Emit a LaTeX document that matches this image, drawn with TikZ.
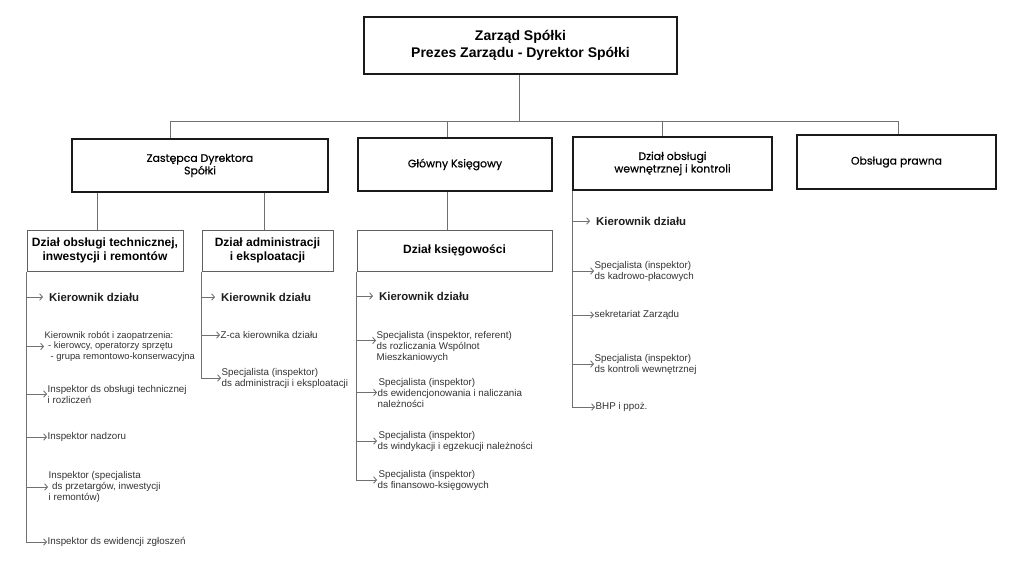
\documentclass[tikz,border=0pt]{standalone}
\usepackage{fontspec}
\setmainfont{Liberation Sans}
\newfontfamily\boxfont{Poppins}[FakeBold=0.5]
\usetikzlibrary{arrows.meta}
\definecolor{conn}{HTML}{707070}
\definecolor{border}{HTML}{1A1A1A}
\definecolor{subborder}{HTML}{606060}
\definecolor{itemtxt}{HTML}{333333}
\begin{document}
\begin{tikzpicture}[x=1pt,y=-1pt,
  mainbox/.style={draw=border,line width=1.5pt,fill=white,inner sep=0pt,align=center,
    font=\bfseries\fontsize{14}{17.5}\selectfont},
  secbox/.style={draw=border,line width=1.4pt,fill=white,inner sep=0pt,align=center,
    font=\boxfont\fontsize{10.9}{12.5}\selectfont},
  subbox/.style={draw=subborder,line width=1pt,fill=white,inner sep=0pt,align=center,
    font=\bfseries\fontsize{12}{13.5}\selectfont},
  item/.style={anchor=west,inner xsep=0.5pt,inner ysep=1pt,align=left,text=itemtxt,
    font=\fontsize{9.8}{11}\selectfont},
  kier/.style={anchor=west,inner xsep=6pt,inner ysep=1pt,text=black!88,
    font=\bfseries\fontsize{11.4}{13}\selectfont},
  cline/.style={draw=conn,line width=0.9pt},
  arr/.style={cline,-{Straight Barb[length=2.8pt,width=6.5pt,line width=0.9pt]}}
]
\useasboundingbox (0,0) rectangle (1024,582);
\fill[white] (0,0) rectangle (1024,582);

% boxes
\node[mainbox,minimum width=313pt,minimum height=57pt] (top) at (520.5,45.5)
  {Zarząd Spółki\\Prezes Zarządu - Dyrektor Spółki};
\node[secbox,minimum width=256pt,minimum height=53pt] (zast) at (200,165.5)
  {Zastępca Dyrektora\\Spółki};
\node[secbox,minimum width=194pt,minimum height=53pt] (glow) at (455,164.5)
  {Główny Księgowy};
\node[secbox,minimum width=199pt,minimum height=53pt] (wewn) at (672.5,163.5)
  {Dział obsługi\\wewnętrznej i kontroli};
\node[secbox,minimum width=199pt,minimum height=54pt] (praw) at (896.5,162)
  {Obsługa prawna};
\node[subbox,minimum width=156pt,minimum height=41pt] (tech) at (105,250.5)
  {Dział obsługi technicznej,\\inwestycji i remontów};
\node[subbox,minimum width=131pt,minimum height=41pt] (adm) at (267.5,250.5)
  {Dział administracji\\i eksploatacji};
\node[subbox,minimum width=195pt,minimum height=41pt] (ksie) at (454.5,250.5)
  {Dział księgowości};

% bus
\coordinate (b0) at (519,121);
\coordinate (b1) at (170,121);
\coordinate (b2) at (447,121);
\coordinate (b3) at (662,121);
\coordinate (b4) at (898,121);
\coordinate (t1) at (97,0);
\coordinate (t2) at (264,0);
\draw[cline] (top.south -| b0) -- (b0);
\draw[cline] (b1) -- (b4);
\draw[cline] (b1) -- (b1 |- zast.north);
\draw[cline] (b2) -- (b2 |- glow.north);
\draw[cline] (b3) -- (b3 |- wewn.north);
\draw[cline] (b4) -- (b4 |- praw.north);
\draw[cline] (zast.south -| t1) -- (tech.north -| t1);
\draw[cline] (zast.south -| t2) -- (adm.north -| t2);
\draw[cline] (glow.south -| b2) -- (ksie.north -| b2);

% technical column
\node[kier] (l1) at (43,297) {Kierownik działu};
\node[item,font=\fontsize{9.4}{10.6}\selectfont] (l2) at (44,346.5) {Kierownik robót i zaopatrzenia:\\\hspace*{3.5pt}- kierowcy, operatorzy sprzętu\\\hspace*{6pt}- grupa remontowo-konserwacyjna};
\node[item] (l3) at (47,394) {Inspektor ds obsługi technicznej\\i rozliczeń};
\node[item] (l4) at (47,437) {Inspektor nadzoru};
\node[item] (l5) at (48,487) {Inspektor (specjalista\\\hspace*{3.5pt}ds przetargów, inwestycji\\i remontów)};
\node[item] (l6) at (47,542) {Inspektor ds ewidencji zgłoszeń};
\draw[arr] (tech.south west) |- (l6.west);
\foreach \n in {l1,l2,l3,l4,l5}{\draw[arr] (tech.south west |- \n.west) -- (\n.west);}

% administration column
\node[kier] (a1) at (215,297) {Kierownik działu};
\node[item] (a2) at (220,335) {Z-ca kierownika działu};
\node[item] (a3) at (221,378) {Specjalista (inspektor)\\ds administracji i eksploatacji};
\draw[arr] (adm.south west) |- (a3.west);
\foreach \n in {a1,a2}{\draw[arr] (adm.south west |- \n.west) -- (\n.west);}

% accounting column
\node[kier] (k1) at (373,296) {Kierownik działu};
\node[item] (k2) at (376,346.5) {Specjalista (inspektor, referent)\\ds rozliczania Wspólnot\\Mieszkaniowych};
\node[item] (k3) at (377,392.5) {\hspace*{1pt}Specjalista (inspektor)\\ds ewidencjonowania i naliczania\\należności};
\node[item] (k4) at (377,441) {\hspace*{1pt}Specjalista (inspektor)\\ds windykacji i egzekucji należności};
\node[item] (k5) at (377,480) {\hspace*{1pt}Specjalista (inspektor)\\ds finansowo-księgowych};
\coordinate (k2a) at ([yshift=6pt]k2.west);
\draw[arr] (ksie.south west) |- (k5.west);
\draw[arr] (ksie.south west |- k1.west) -- (k1.west);
\draw[arr] (ksie.south west |- k2a) -- (k2a);
\foreach \n in {k3,k4}{\draw[arr] (ksie.south west |- \n.west) -- (\n.west);}

% internal column
\node[kier] (w1) at (590,221) {Kierownik działu};
\node[item] (w2) at (594,271) {Specjalista (inspektor)\\ds kadrowo-płacowych};
\node[item] (w3) at (594,315) {sekretariat Zarządu};
\node[item] (w4) at (594,364) {Specjalista (inspektor)\\ds kontroli wewnętrznej};
\node[item] (w5) at (595,407) {BHP i ppoż.};
\draw[arr] (wewn.south west) |- (w5.west);
\foreach \n in {w1,w2,w3,w4}{\draw[arr] (wewn.south west |- \n.west) -- (\n.west);}
\end{tikzpicture}
\end{document}
